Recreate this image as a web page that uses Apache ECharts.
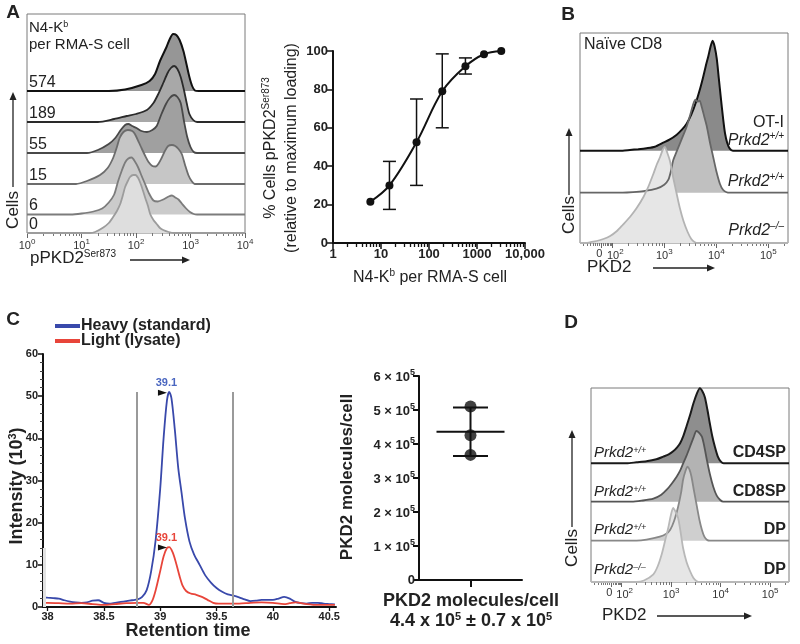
<!DOCTYPE html>
<html><head><meta charset="utf-8">
<script src="https://cdn.jsdelivr.net/npm/echarts@6/dist/echarts.min.js"></script>
<style>html,body{margin:0;padding:0;background:#fff}#c{width:800px;height:644px}</style>
</head><body><div id="c"></div>
<script>
// ---------------- DATA ----------------
// Panel A – histograms of pPKD2 (x: log10 intensity, y: relative cell count)
const rowLabelsA = ['574', '189', '55', '15', '6', '0'];
const histA574 = [[0,0],[1.5,0],[1.8,1.5],[2.1,6],[2.25,10],[2.35,17],[2.44,30],[2.56,44],[2.62,52],[2.68,57],[2.74,56],[2.8,51],[2.87,40],[2.93,26],[2.98,14],[3.03,5],[3.08,0.5],[3.15,0],[4,0]];
const histA189 = [[0,0],[1.3,0],[1.6,3],[1.83,6],[2.0,8],[2.2,12],[2.32,19],[2.4,27],[2.5,39],[2.58,49],[2.64,54],[2.7,56],[2.76,53],[2.82,45],[2.88,32],[2.93,19],[2.98,8],[3.05,2],[3.12,0],[4,0]];
const histA55 = [[0,0],[1.1,0],[1.3,3],[1.5,9],[1.62,15],[1.72,23],[1.8,28],[1.86,29],[1.93,27],[2.01,25],[2.1,22],[2.2,21],[2.3,23],[2.38,27],[2.46,38],[2.55,49],[2.62,55],[2.7,58],[2.76,56],[2.82,50],[2.88,32],[2.94,16],[3.0,6],[3.06,1],[3.12,0],[4,0]];
const histA15 = [[0,0],[0.9,0],[1.1,3],[1.34,9],[1.48,16],[1.58,26],[1.65,37],[1.7,46],[1.77,52],[1.85,54],[1.93,53],[1.98,50],[2.05,42],[2.1,36],[2.17,28],[2.23,22],[2.3,18],[2.36,17.5],[2.42,21],[2.47,26],[2.53,33],[2.59,38],[2.66,39],[2.72,38],[2.78,35],[2.84,30],[2.9,19],[2.96,9],[3.02,3],[3.08,0],[4,0]];
const histA6 = [[0,0],[0.8,0],[1.0,1],[1.22,3],[1.38,6],[1.5,12],[1.6,20],[1.67,33],[1.74,44],[1.8,52],[1.86,56],[1.92,57],[1.98,53],[2.04,47],[2.1,39],[2.17,30],[2.24,21],[2.32,14],[2.4,13],[2.5,15],[2.6,18],[2.66,19],[2.72,17],[2.78,15],[2.84,11],[2.92,6],[2.99,2.5],[3.06,0.5],[3.12,0],[4,0]];
const histA0 = [[0,0],[1.15,0],[1.25,1],[1.4,5.5],[1.5,10],[1.58,16],[1.65,22],[1.71,29],[1.76,38],[1.8,46],[1.85,52],[1.89,56],[1.95,58],[1.99,58],[2.04,55],[2.08,50],[2.13,42],[2.17,35],[2.22,27],[2.26,19],[2.32,13],[2.38,9],[2.44,5],[2.5,3],[2.6,1],[2.7,0],[4,0]];
const histATickExp = [0, 1, 2, 3, 4];

// Panel A – dose response
const doseX = [6, 15, 55, 189, 574, 1400, 3200];
const doseY = [21.5, 30, 52.5, 79, 92, 98.3, 100];
const doseErrLow = [null, 17.5, 30, 60, 88, null, null];
const doseErrHigh = [null, 42.5, 75, 98.5, 96.4, null, null];
const doseXTicks = [1, 10, 100, 1000, 10000];
const doseXTickLabels = ['1', '10', '100', '1000', '10,000'];

// Panel B – PKD2 histograms (x: biexponential decades)
const histBOT1 = [[1.38,0],[2.2,0],[2.34,0.7],[2.5,1.5],[2.66,2.5],[2.82,4],[2.98,8],[3.1,11],[3.24,16],[3.34,21],[3.43,27],[3.52,36],[3.62,50],[3.7,64],[3.75,74],[3.8,85],[3.85,95],[3.89,104],[3.93,110],[3.97,104],[4.01,92],[4.05,72],[4.09,52],[4.13,33],[4.17,17],[4.21,8],[4.26,2],[4.32,0],[5.38,0]];
const histBWT = [[1.38,0],[2.2,0],[2.4,0.5],[2.6,1.5],[2.85,4],[3.0,8],[3.08,13],[3.13,22],[3.17,32],[3.23,40],[3.3,49],[3.37,58],[3.43,66],[3.5,78],[3.56,89],[3.6,93],[3.64,91],[3.68,92],[3.72,86],[3.77,76],[3.82,66],[3.88,50],[3.94,36],[4.0,22],[4.07,9],[4.13,3],[4.2,0.5],[4.26,0],[5.38,0]];
const histBKO = [[1.38,0],[1.5,0],[1.57,0.7],[1.7,2],[1.83,4],[1.96,7],[2.09,12],[2.2,18],[2.34,26],[2.47,35],[2.6,46],[2.7,57],[2.79,69],[2.86,79],[2.92,86],[2.97,93],[3.01,96],[3.06,90],[3.11,82],[3.17,66],[3.24,49],[3.3,35],[3.37,22],[3.45,11],[3.52,4],[3.58,1],[3.65,0],[5.38,0]];

// Panel D – thymocyte PKD2 histograms
const histDCD4 = [[1.38,0],[2.1,0],[2.3,1],[2.5,2],[2.7,4],[2.84,6.7],[2.95,9],[3.04,12],[3.12,16],[3.18,20],[3.25,28],[3.31,37],[3.38,48],[3.45,60],[3.52,70],[3.58,75],[3.63,72],[3.68,66],[3.73,54],[3.78,40],[3.83,27],[3.88,17],[3.94,7],[4.0,2],[4.06,0],[5.38,0]];
const histDCD8 = [[1.38,0],[2.2,0],[2.4,1],[2.64,3],[2.8,7],[2.91,12],[3.01,18],[3.11,25],[3.18,31],[3.24,38],[3.31,46],[3.38,55],[3.45,64],[3.51,70.7],[3.56,69],[3.62,65],[3.67,55],[3.72,42],[3.78,28],[3.85,15],[3.92,6],[3.99,1.7],[4.05,0],[5.38,0]];
const histDDP = [[1.38,0],[2.3,0],[2.5,1],[2.77,4],[2.9,7],[2.98,11],[3.06,20],[3.14,34],[3.2,48],[3.24,61],[3.29,70],[3.33,74],[3.37,71],[3.41,64],[3.46,50],[3.52,34],[3.57,21],[3.62,11],[3.67,4],[3.72,1],[3.78,0],[5.38,0]];
const histDDPKO = [[1.38,0],[2.3,0],[2.45,1.5],[2.64,7.7],[2.73,16],[2.81,28],[2.88,42],[2.94,54],[2.99,66],[3.04,74],[3.09,70],[3.14,64],[3.19,50],[3.24,34],[3.31,20],[3.38,11],[3.45,4],[3.51,1],[3.58,0],[5.38,0]];
const facsTickVals = [1.79, 2, 3, 4, 5];
const facsTickExp = [null, 2, 3, 4, 5];

// Panel C – chromatogram (retention time, intensity x10^3)
const heavyTrace = [[37.96,2.3],[38.0,2.2],[38.05,2.1],[38.1,2.0],[38.15,1.6],[38.2,1.3],[38.25,1.1],[38.3,1.0],[38.35,1.1],[38.4,1.5],[38.45,1.6],[38.5,1.0],[38.55,0.8],[38.6,1.0],[38.65,1.2],[38.7,1.4],[38.75,1.6],[38.8,1.8],[38.84,2.4],[38.88,4],[38.92,8.5],[38.96,16],[39.0,28],[39.03,40],[39.06,49],[39.08,51],[39.1,49.5],[39.13,42],[39.16,33],[39.19,27],[39.22,21],[39.26,15.5],[39.3,12.5],[39.35,10],[39.4,7.5],[39.45,5.8],[39.5,4.5],[39.55,3.6],[39.6,3.0],[39.65,2.7],[39.7,2.3],[39.75,1.8],[39.8,1.4],[39.85,1.5],[39.9,1.7],[39.95,1.7],[40.0,1.7],[40.05,2.0],[40.1,2.4],[40.15,2.0],[40.2,1.2],[40.25,0.9],[40.3,0.8],[40.35,1.0],[40.4,1.0],[40.45,0.8],[40.5,0.7],[40.55,0.6]];
const lightTrace = [[37.96,1.0],[38.0,1.0],[38.1,0.9],[38.2,0.8],[38.3,0.9],[38.4,0.7],[38.5,0.5],[38.6,0.7],[38.7,0.9],[38.8,1.0],[38.85,1.0],[38.9,0.5],[38.93,1.5],[38.96,4],[39.0,8.5],[39.03,12],[39.06,14],[39.08,14.2],[39.11,13],[39.14,10.5],[39.17,7.5],[39.2,5],[39.23,3.8],[39.27,3.2],[39.32,2.9],[39.37,2.4],[39.42,1.7],[39.47,1.0],[39.52,0.8],[39.6,0.8],[39.7,0.8],[39.8,1.0],[39.9,1.1],[40.0,1.0],[40.1,0.7],[40.15,0.9],[40.2,1.1],[40.3,0.7],[40.4,0.5],[40.5,0.5],[40.55,0.5]];
const peakMarks = { heavy: [39.02, 50.8], light: [39.02, 14.1] };
const peakLabel = '39.1';
const integrationBounds = [38.79, 39.64];
const integrationTop = 51;
const chromXTicks = [38, 38.5, 39, 39.5, 40, 40.5];

// Panel C – molecules per cell (x10^5)
const moleculeValues = [5.1, 4.26, 3.68];
const moleculeMean = 4.36;
const moleculeSD = 0.71;

// ---------------- CHART ----------------
const FF = '"Liberation Sans", Arial, Helvetica, sans-serif';
const grids = [], xAxes = [], yAxes = [], series = [], graphics = [];

function addGrid(g, xa, ya) {
  grids.push(g);
  const gi = grids.length - 1;
  xa.gridIndex = gi; ya.gridIndex = gi;
  xAxes.push(xa); yAxes.push(ya);
  return { xi: xAxes.length - 1, yi: yAxes.length - 1 };
}

const supRichAxis = {
  b: { fontFamily: FF, fontSize: 11, color: '#333', verticalAlign: 'bottom' },
  p: { fontFamily: FF, fontSize: 11, color: '#333', verticalAlign: 'bottom', padding: [0, 0, 0, 6] },
  s: { fontFamily: FF, fontSize: 8, color: '#333', verticalAlign: 'bottom', padding: [0, 0, 5, 0] },
  z: { fontFamily: FF, fontSize: 11, color: '#333', verticalAlign: 'bottom', padding: [0, 4, 0, 0] }
};

function minorLogTicks(n0, n1) {
  const out = [];
  for (let n = n0; n < n1; n++) for (let k = 2; k <= 9; k++) out.push(n + Math.log10(k));
  return out;
}

function histPanel(box, range, baselines, rows, strokes, fills, widths, labelVals, labelFmt, majorTicks, minorTicks) {
  addGrid({ left: box.l, top: box.t, width: box.w, height: box.b - box.t, show: true, borderColor: '#7a7a7a', borderWidth: 1 },
    { type: 'value', min: range[0], max: range[1], splitLine: { show: false }, axisLine: { show: false },
      axisTick: { show: true, customValues: majorTicks, length: 5, lineStyle: { color: '#666', width: 1 } },
      axisLabel: { show: true, customValues: labelVals, formatter: labelFmt, rich: supRichAxis, margin: 5, hideOverlap: false, showMinLabel: true, showMaxLabel: true } },
    { type: 'value', show: false });
  rows.forEach((data, i) => {
    const isLast = i === rows.length - 1;
    const h = baselines[i] - box.t;
    const ax = addGrid({ left: box.l, top: box.t, width: box.w, height: h },
      isLast ? { type: 'value', min: range[0], max: range[1], splitLine: { show: false }, axisLine: { show: false }, axisLabel: { show: false },
        axisTick: { show: true, customValues: minorTicks, length: 3, lineStyle: { color: '#777', width: 1 } } }
             : { type: 'value', min: range[0], max: range[1], show: false },
      { type: 'value', min: 0, max: h, show: false });
    series.push({ type: 'line', xAxisIndex: ax.xi, yAxisIndex: ax.yi, data, symbol: 'none', smooth: 0.25, silent: true, clip: false,
      lineStyle: { color: strokes[i], width: widths[i] }, areaStyle: { color: fills[i], opacity: 1 } });
  });
}

// Panel A histograms
const boxA = { l: 27, t: 14, w: 218, b: 233 };
histPanel(boxA, [0, 4], [91, 122, 153, 184, 214.5, 233],
  [histA574, histA189, histA55, histA15, histA6, histA0],
  ['#111', '#2a2a2a', '#484848', '#6c6c6c', '#7c7c7c', '#9c9c9c'],
  ['#969696', '#a8a8a8', '#a0a0a0', '#c6c6c6', '#cbcbcb', '#dedede'],
  [2, 1.8, 1.8, 1.8, 1.8, 1.8],
  histATickExp, v => '{b|10}{s|' + Math.round(v) + '}',
  histATickExp, minorLogTicks(0, 4));

// Panel B histograms
const boxB = { l: 580, t: 33, w: 208, b: 243 };
const facsFmt = v => {
  const i = facsTickVals.findIndex(t => Math.abs(t - v) < 1e-6);
  if (facsTickExp[i] == null) return '{z|0}';
  return (i === 1 ? '{p|10}' : '{b|10}') + '{s|' + facsTickExp[i] + '}';
};
const facsMinor = [1.45, 1.52, 1.58, 1.63, 1.67, 1.71, 1.75, 1.83, 1.87, 1.9, 1.93, 1.96, 1.98].concat(minorLogTicks(2, 5), [5.3]);
histPanel(boxB, [1.38, 5.38], [150.7, 192.7, 243], [histBOT1, histBWT, histBKO],
  ['#111', '#666', '#b3b3b3'], ['#8a8a8a', '#c0c0c0', '#e6e6e6'], [2, 1.8, 1.8],
  facsTickVals, facsFmt, facsTickVals, facsMinor);

// Panel D histograms
const boxD = { l: 591, t: 388, w: 198, b: 582 };
histPanel(boxD, [1.38, 5.38], [463.3, 501.7, 540.7, 582], [histDCD4, histDCD8, histDDP, histDDPKO],
  ['#1a1a1a', '#555', '#888', '#b8b8b8'], ['#8e8e8e', '#b3b3b3', '#cfcfcf', '#e6e6e6'], [2, 1.8, 1.8, 1.8],
  facsTickVals, facsFmt, facsTickVals, facsMinor);

// Panel A dose response
const doseRect = { left: 333, top: 51, width: 192, height: 192 };
const dA = addGrid(Object.assign({}, doseRect),
  { type: 'log', logBase: 10, min: 1, max: 10000, splitLine: { show: false }, axisLine: { lineStyle: { color: '#111', width: 2 } },
    axisTick: { length: 6, lineStyle: { color: '#111', width: 1.5 } },
    axisLabel: { formatter: v => doseXTickLabels[doseXTicks.indexOf(Math.round(v))] || '', fontFamily: FF, fontWeight: 'bold', fontSize: 13, color: '#222', margin: 5 } },
  { type: 'value', min: 0, max: 100, interval: 20, splitLine: { show: false }, axisLine: { show: true, lineStyle: { color: '#111', width: 2 } },
    axisTick: { show: true, length: 6, lineStyle: { color: '#111', width: 1.5 } },
    axisLabel: { fontFamily: FF, fontWeight: 'bold', fontSize: 13, color: '#222', margin: 5 } });
const doseMinorVals = [];
for (let n = 0; n < 4; n++) for (let k = 2; k <= 9; k++) doseMinorVals.push(k * Math.pow(10, n));
addGrid(Object.assign({}, doseRect),
  { type: 'log', logBase: 10, min: 1, max: 10000, splitLine: { show: false }, axisLine: { show: false }, axisLabel: { show: false },
    axisTick: { show: true, customValues: doseMinorVals, length: 4, lineStyle: { color: '#111', width: 1.3 } } },
  { type: 'value', show: false });
series.push({ type: 'custom', xAxisIndex: dA.xi, yAxisIndex: dA.yi, silent: true, z: 3,
  data: doseX.map((x, i) => [x, doseErrLow[i], doseErrHigh[i]]).filter(d => d[1] != null),
  renderItem: (params, api) => {
    const lo = api.coord([api.value(0), api.value(1)]), hi = api.coord([api.value(0), api.value(2)]);
    const st = { stroke: '#111', lineWidth: 1.5 };
    return { type: 'group', children: [
      { type: 'line', shape: { x1: lo[0], y1: lo[1], x2: hi[0], y2: hi[1] }, style: st },
      { type: 'line', shape: { x1: lo[0] - 6.5, y1: lo[1], x2: lo[0] + 6.5, y2: lo[1] }, style: st },
      { type: 'line', shape: { x1: hi[0] - 6.5, y1: hi[1], x2: hi[0] + 6.5, y2: hi[1] }, style: st }] };
  } });
series.push({ type: 'line', xAxisIndex: dA.xi, yAxisIndex: dA.yi, silent: true, z: 4,
  data: doseX.map((x, i) => [x, doseY[i]]), smooth: 0.35, symbol: 'circle', symbolSize: 8,
  lineStyle: { color: '#111', width: 2 }, itemStyle: { color: '#111' } });

// Panel C chromatogram
const blue = '#3949ab', red = '#e8453a';
const cC = addGrid({ left: 43, top: 354, width: 293, height: 253 },
  { type: 'value', min: 37.96, max: 40.56, splitLine: { show: false },
    axisLine: { lineStyle: { color: '#111', width: 2 } },
    axisTick: { customValues: chromXTicks, length: 4, lineStyle: { color: '#111', width: 1.3 } },
    axisLabel: { customValues: chromXTicks, fontFamily: FF, fontWeight: 'bold', fontSize: 11, color: '#222', margin: 4 } },
  { type: 'value', min: 0, max: 60, interval: 10, splitLine: { show: false },
    axisLine: { show: true, lineStyle: { color: '#111', width: 2 } },
    axisTick: { show: true, length: 5, lineStyle: { color: '#111', width: 1.5 } },
    minorTick: { show: true, splitNumber: 5, length: 3, lineStyle: { color: '#444', width: 1 } },
    axisLabel: { fontFamily: FF, fontWeight: 'bold', fontSize: 11, color: '#222', margin: 5 } });
series.push({ type: 'line', name: 'Heavy (standard)', xAxisIndex: cC.xi, yAxisIndex: cC.yi, data: heavyTrace, symbol: 'none', smooth: 0.3,
  color: blue, lineStyle: { color: blue, width: 1.8 }, silent: true, z: 3,
  markLine: { silent: true, symbol: 'none', label: { show: false }, lineStyle: { color: '#9a9a9a', width: 2, type: 'solid' },
    data: [[{ coord: [integrationBounds[0], 0] }, { coord: [integrationBounds[0], integrationTop] }],
           [{ coord: [integrationBounds[1], 0] }, { coord: [integrationBounds[1], integrationTop] }],
           [{ coord: [37.975, 0], lineStyle: { color: '#e2e2e2', width: 3 } }, { coord: [37.975, 14] }]] },
  markPoint: { silent: true, symbol: 'triangle', symbolRotate: -90, symbolSize: [6, 9], itemStyle: { color: '#111' },
    label: { show: true, position: 'top', distance: 1, offset: [4, 0], formatter: peakLabel, color: '#4a66c0', fontFamily: FF, fontWeight: 'bold', fontSize: 11 },
    data: [{ coord: peakMarks.heavy }] } });
series.push({ type: 'line', name: 'Light (lysate)', xAxisIndex: cC.xi, yAxisIndex: cC.yi, data: lightTrace, symbol: 'none', smooth: 0.3,
  color: red, lineStyle: { color: red, width: 1.8 }, silent: true, z: 4,
  markPoint: { silent: true, symbol: 'triangle', symbolRotate: -90, symbolSize: [6, 9], itemStyle: { color: '#111' },
    label: { show: true, position: 'top', distance: 1, offset: [4, 0], formatter: peakLabel, color: red, fontFamily: FF, fontWeight: 'bold', fontSize: 11 },
    data: [{ coord: peakMarks.light }] } });

// Panel C molecules per cell
const cM = addGrid({ left: 419, top: 376, width: 103, height: 204 },
  { type: 'category', data: ['PKD2 molecules/cell'], axisLine: { lineStyle: { color: '#111', width: 2 } },
    axisTick: { show: true, alignWithLabel: true, length: 7, lineStyle: { color: '#111', width: 2 } }, axisLabel: { show: false } },
  { type: 'value', min: 0, max: 6, interval: 1, splitLine: { show: false },
    axisLine: { show: true, lineStyle: { color: '#111', width: 2 } },
    axisTick: { show: true, length: 6, lineStyle: { color: '#111', width: 2 } },
    axisLabel: { margin: 4, formatter: v => v === 0 ? '{m|0}' : '{m|' + v + ' × 10}{s|5}',
      rich: { m: { fontFamily: FF, fontWeight: 'bold', fontSize: 13, color: '#222', verticalAlign: 'bottom' },
              s: { fontFamily: FF, fontWeight: 'bold', fontSize: 9, color: '#222', verticalAlign: 'bottom', padding: [0, 0, 6, 0] } } } });
series.push({ type: 'custom', xAxisIndex: cM.xi, yAxisIndex: cM.yi, silent: true, z: 3,
  data: [[0, moleculeMean, moleculeMean - moleculeSD, moleculeMean + moleculeSD]],
  renderItem: (params, api) => {
    const m = api.coord([api.value(0), api.value(1)]);
    const lo = api.coord([api.value(0), api.value(2)]), hi = api.coord([api.value(0), api.value(3)]);
    const st = { stroke: '#111', lineWidth: 2 };
    return { type: 'group', children: [
      { type: 'line', shape: { x1: lo[0], y1: lo[1], x2: hi[0], y2: hi[1] }, style: st },
      { type: 'line', shape: { x1: lo[0] - 17.5, y1: lo[1], x2: lo[0] + 17.5, y2: lo[1] }, style: st },
      { type: 'line', shape: { x1: hi[0] - 17.5, y1: hi[1], x2: hi[0] + 17.5, y2: hi[1] }, style: st },
      { type: 'line', shape: { x1: m[0] - 34, y1: m[1], x2: m[0] + 34, y2: m[1] }, style: st }] };
  } });
series.push({ type: 'scatter', xAxisIndex: cM.xi, yAxisIndex: cM.yi, silent: true, z: 4,
  data: moleculeValues.map(v => [0, v]), symbol: 'circle', symbolSize: 12, itemStyle: { color: '#111' } });

// ---------------- TEXT / ANNOTATIONS ----------------
function T(x, y, text, o) {
  o = o || {};
  return { type: 'text', x, y, rotation: o.rot || 0, silent: true, z: 100,
    style: { text, fill: o.color || '#222', fontFamily: FF, fontSize: o.size || 15, fontWeight: o.weight || 'normal',
      fontStyle: o.fstyle || 'normal', align: o.align || 'left', verticalAlign: o.va || 'middle', rich: o.rich } };
}
function arrowUp(x, y1, y2) {
  return [{ type: 'line', silent: true, shape: { x1: x, y1, x2: x, y2: y2 + 6 }, style: { stroke: '#222', lineWidth: 1.3 } },
          { type: 'polygon', silent: true, shape: { points: [[x - 3.5, y2 + 8], [x + 3.5, y2 + 8], [x, y2]] }, style: { fill: '#222' } }];
}
function arrowRight(x1, x2, y) {
  return [{ type: 'line', silent: true, shape: { x1, y1: y, x2: x2 - 6, y2: y }, style: { stroke: '#222', lineWidth: 1.3 } },
          { type: 'polygon', silent: true, shape: { points: [[x2 - 8, y - 3.5], [x2 - 8, y + 3.5], [x2, y]] }, style: { fill: '#222' } }];
}
const richN = (size, weight) => {
  const w = weight || 'normal', up = Math.round(size * 0.42), ss = Math.round(size * 0.6);
  return {
    n: { fontFamily: FF, fontSize: size, fontWeight: w, fill: '#222', verticalAlign: 'bottom' },
    s: { fontFamily: FF, fontSize: ss, fontWeight: w, fill: '#222', verticalAlign: 'bottom', padding: [0, 0, up, 0] },
    i: { fontFamily: FF, fontSize: size, fontStyle: 'italic', fill: '#222', verticalAlign: 'bottom' },
    si: { fontFamily: FF, fontSize: ss, fontStyle: 'italic', fill: '#222', verticalAlign: 'bottom', padding: [0, 0, up, 0] }
  };
};

// panel letters
graphics.push(T(13, 13, 'A', { size: 19, weight: 'bold', align: 'center' }));
graphics.push(T(568, 15, 'B', { size: 19, weight: 'bold', align: 'center' }));
graphics.push(T(13, 320, 'C', { size: 19, weight: 'bold', align: 'center' }));
graphics.push(T(571, 323, 'D', { size: 19, weight: 'bold', align: 'center' }));

// Panel A histogram annotations
graphics.push(T(29, 28, '{n|N4-K}{s|b}', { rich: richN(15) }));
graphics.push(T(29, 45, 'per RMA-S cell', { size: 15 }));
const rowLabelYA = [83, 114, 145, 176, 206, 225];
rowLabelsA.forEach((t, i) => graphics.push(T(29, rowLabelYA[i], t, { size: 16 })));
graphics.push(T(13, 210, 'Cells', { size: 17, rot: Math.PI / 2, align: 'center' }));
graphics.push(...arrowUp(13, 187, 92));
graphics.push(T(30, 258, '{n|pPKD2}{s|Ser873}', { rich: richN(17) }));
graphics.push(...arrowRight(130, 190, 260));

// dose response titles
graphics.push(T(270, 148, '{n|% Cells pPKD2}{s|Ser873}', { rot: Math.PI / 2, align: 'center', rich: richN(16) }));
graphics.push(T(292, 148, '(relative to maximum loading)', { size: 16, rot: Math.PI / 2, align: 'center' }));
graphics.push(T(430, 277, '{n|N4-K}{s|b}{n| per RMA-S cell}', { align: 'center', rich: richN(16) }));

// Panel B annotations
graphics.push(T(584, 45, 'Naïve CD8', { size: 16 }));
graphics.push(T(784, 123, 'OT-I', { size: 16, align: 'right' }));
graphics.push(T(784, 140, '{i|Prkd2}{si|+/+}', { align: 'right', rich: richN(16) }));
graphics.push(T(784, 181, '{i|Prkd2}{si|+/+}', { align: 'right', rich: richN(16) }));
graphics.push(T(784, 230, '{i|Prkd2}{si|–/–}', { align: 'right', rich: richN(16) }));
graphics.push(T(569, 215, 'Cells', { size: 17, rot: Math.PI / 2, align: 'center' }));
graphics.push(...arrowUp(569, 195, 128));
graphics.push(T(587, 267, 'PKD2', { size: 17 }));
graphics.push(...arrowRight(653, 715, 268));

// Panel D annotations
const dRowY = [453, 492, 530, 570];
const dLeft = ['{i|Prkd2}{si|+/+}', '{i|Prkd2}{si|+/+}', '{i|Prkd2}{si|+/+}', '{i|Prkd2}{si|–/–}'];
const dRight = ['CD4SP', 'CD8SP', 'DP', 'DP'];
dRowY.forEach((y, i) => {
  graphics.push(T(594, y, dLeft[i], { align: 'left', rich: richN(15) }));
  graphics.push(T(786, y, dRight[i], { size: 16, weight: 'bold', align: 'right' }));
});
graphics.push(T(572, 548, 'Cells', { size: 17, rot: Math.PI / 2, align: 'center' }));
graphics.push(...arrowUp(572, 527, 430));
graphics.push(T(602, 615, 'PKD2', { size: 17 }));
graphics.push(...arrowRight(657, 752, 616));

// Panel C titles
graphics.push(T(17, 486, '{n|Intensity (10}{s|3}{n|)}', { rot: Math.PI / 2, align: 'center', rich: richN(18, 'bold') }));
graphics.push(T(188, 631, 'Retention time', { size: 18, weight: 'bold', align: 'center' }));
graphics.push(T(347, 477, 'PKD2 molecules/cell', { size: 17, weight: 'bold', rot: Math.PI / 2, align: 'center' }));
graphics.push(T(471, 601, 'PKD2 molecules/cell', { size: 18, weight: 'bold', align: 'center' }));
graphics.push(T(471, 621, '{n|4.4 x 10}{s|5}{n| ± 0.7 x 10}{s|5}', { align: 'center', rich: richN(18, 'bold') }));

const chart = echarts.init(document.getElementById('c'), null, { renderer: 'canvas' });
chart.setOption({
  animation: false,
  backgroundColor: '#fff',
  legend: { data: ['Heavy (standard)', 'Light (lysate)'], orient: 'vertical', left: 55, top: 318, padding: 0, itemGap: -1,
    itemWidth: 25, itemHeight: 4, icon: 'rect', selectedMode: false,
    textStyle: { fontFamily: FF, fontWeight: 'bold', fontSize: 16, color: '#222', padding: [0, 0, 0, -4] } },
  grid: grids, xAxis: xAxes, yAxis: yAxes, series, graphic: { elements: graphics }
});
</script></body></html>
